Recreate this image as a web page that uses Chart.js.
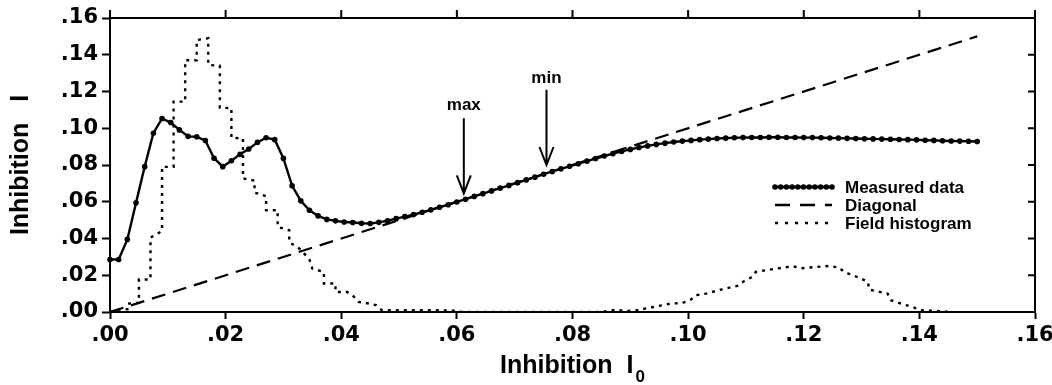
<!DOCTYPE html>
<html lang="en">
<head>
    <meta charset="UTF-8">
    <title>Inhibition I vs I0</title>
    <script src="https://cdn.jsdelivr.net/npm/chart.js"></script>
    <style>
        html, body { margin: 0; padding: 0; background: #fff; }
        #wrap { width: 1052px; height: 385px; position: relative; }
    </style>
</head>
<body>
    <div id="wrap"><canvas id="inhibitionChart"></canvas></div>

    <script>
        // Measured data (Inhibition I0 -> Inhibition I)
        const measuredX = [
            0.0000, 0.0015, 0.0030, 0.0045, 0.0060, 0.0075, 0.0090, 0.0105, 0.0120, 0.0135,
            0.0150, 0.0165, 0.0180, 0.0195, 0.0210, 0.0225, 0.0240, 0.0255, 0.0270, 0.0285,
            0.0300, 0.0315, 0.0330, 0.0345, 0.0360, 0.0375, 0.0390, 0.0405, 0.0420, 0.0435,
            0.0450, 0.0465, 0.0480, 0.0495, 0.0510, 0.0525, 0.0540, 0.0555, 0.0570, 0.0585,
            0.0600, 0.0615, 0.0630, 0.0645, 0.0660, 0.0675, 0.0690, 0.0705, 0.0720, 0.0735,
            0.0750, 0.0765, 0.0780, 0.0795, 0.0810, 0.0825, 0.0840, 0.0855, 0.0870, 0.0885,
            0.0900, 0.0915, 0.0930, 0.0945, 0.0960, 0.0975, 0.0990, 0.1005, 0.1020, 0.1035,
            0.1050, 0.1065, 0.1080, 0.1095, 0.1110, 0.1125, 0.1140, 0.1155, 0.1170, 0.1185,
            0.1200, 0.1215, 0.1230, 0.1245, 0.1260, 0.1275, 0.1290, 0.1305, 0.1320, 0.1335,
            0.1350, 0.1365, 0.1380, 0.1395, 0.1410, 0.1425, 0.1440, 0.1455, 0.1470, 0.1485,
            0.1500
        ];
        const measuredY = [
            0.0286, 0.0286, 0.0395, 0.0594, 0.0791, 0.0973, 0.1053, 0.1031, 0.0991, 0.0956,
            0.0954, 0.0933, 0.0837, 0.0791, 0.0823, 0.0858, 0.0887, 0.0923, 0.0948, 0.0938,
            0.0836, 0.0687, 0.0605, 0.0554, 0.0523, 0.0504, 0.0496, 0.0490, 0.0487, 0.0483,
            0.0482, 0.0488, 0.0497, 0.0508, 0.0519, 0.0530, 0.0543, 0.0556, 0.0570, 0.0584,
            0.0599, 0.0614, 0.0629, 0.0644, 0.0659, 0.0674, 0.0689, 0.0704, 0.0719, 0.0734,
            0.0750, 0.0765, 0.0779, 0.0793, 0.0807, 0.0821, 0.0835, 0.0849, 0.0862, 0.0874,
            0.0885, 0.0895, 0.0904, 0.0912, 0.0919, 0.0925, 0.0930, 0.0934, 0.0938, 0.0941,
            0.0944, 0.0946, 0.0948, 0.0949, 0.0950, 0.0950, 0.0951, 0.0951, 0.0950, 0.0950,
            0.0949, 0.0949, 0.0948, 0.0947, 0.0946, 0.0945, 0.0944, 0.0943, 0.0942, 0.0941,
            0.0940, 0.0939, 0.0938, 0.0937, 0.0935, 0.0934, 0.0932, 0.0931, 0.0930, 0.0929,
            0.0928
        ];

        // Diagonal I = I0
        const diagonalX = [0.0, 0.15];
        const diagonalY = [0.0, 0.15];

        // Field histogram outline (stepped)
        const histX = [
            0.000, 0.001, 0.003, 0.003, 0.005, 0.005, 0.007, 0.007, 0.009, 0.009,
            0.011, 0.011, 0.013, 0.013, 0.015, 0.015, 0.017, 0.017, 0.019, 0.019,
            0.021, 0.021, 0.023, 0.023, 0.025, 0.025, 0.027, 0.027, 0.029, 0.029,
            0.031, 0.031, 0.033, 0.0345, 0.035, 0.037, 0.037, 0.039, 0.039, 0.041,
            0.042, 0.043, 0.045, 0.046, 0.047, 0.059, 0.061, 0.085, 0.086, 0.0875,
            0.089, 0.091, 0.094, 0.097, 0.099, 0.1005, 0.1013, 0.1031, 0.1057, 0.1085,
            0.1097, 0.1111, 0.1117, 0.1152, 0.1181, 0.1195, 0.1244, 0.1261, 0.1270, 0.1299,
            0.1311, 0.1313, 0.1345, 0.1351, 0.1377, 0.1406, 0.1443, 0.1450
        ];
        const histY = [
            0.0000, 0.0012, 0.0015, 0.0045, 0.0050, 0.0177, 0.0177, 0.0405, 0.0440, 0.0790,
            0.0790, 0.1145, 0.1145, 0.1370, 0.1370, 0.1480, 0.1490, 0.1345, 0.1340, 0.1112,
            0.1110, 0.0948, 0.0945, 0.0727, 0.0715, 0.0650, 0.0630, 0.0554, 0.0554, 0.0463,
            0.0445, 0.0380, 0.0340, 0.0285, 0.0236, 0.0218, 0.0155, 0.0155, 0.0109, 0.0109,
            0.0090, 0.0055, 0.0045, 0.0037, 0.0010, 0.0009, 0.0000, 0.0000, 0.0005, 0.0013,
            0.0005, 0.0009, 0.0027, 0.0046, 0.0049, 0.0068, 0.0091, 0.0100, 0.0122, 0.0142,
            0.0169, 0.0191, 0.0218, 0.0236, 0.0249, 0.0238, 0.0251, 0.0242, 0.0218, 0.0182,
            0.0164, 0.0122, 0.0100, 0.0064, 0.0037, 0.0009, 0.0004, 0.0000
        ];

        // Ticks
        const xTickValues = [0, 0.02, 0.04, 0.06, 0.08, 0.10, 0.12, 0.14, 0.16];
        const xTickLabels = ['.00', '.02', '.04', '.06', '.08', '.10', '.12', '.14', '.16'];
        const yTickValues = [0, 0.02, 0.04, 0.06, 0.08, 0.10, 0.12, 0.14, 0.16];
        const yTickLabels = ['.00', '.02', '.04', '.06', '.08', '.10', '.12', '.14', '.16'];

        // Arrows: "max" and "min"
        const arrowLabels = ['max', 'min'];
        const arrowX = [0.0612, 0.0755];
        const arrowTipY = [0.0645, 0.0800];
        const arrowTailY = [0.1055, 0.1210];
        const arrowTextY = [0.1099, 0.1245];

        const legendLabels = ['Measured data', 'Diagonal', 'Field histogram'];

        const toPoints = (xs, ys) => xs.map((x, i) => ({ x: x, y: ys[i] }));

        const TICK_FONT = { family: '"DejaVu Sans"', size: 21, weight: 'bold' };
        const TEXT_FONT = '"Liberation Sans", Arial, sans-serif';

        // Frame, top/right ticks, arrows, legend and x title
        const decorPlugin = {
            id: 'decor',
            afterDraw(chart) {
                const ctx = chart.ctx;
                const area = chart.chartArea;
                const xs = chart.scales.x;
                const ys = chart.scales.y;
                ctx.save();
                ctx.strokeStyle = '#000';
                ctx.fillStyle = '#000';
                ctx.lineWidth = 2;
                ctx.setLineDash([]);

                // frame
                ctx.strokeRect(area.left, area.top, area.right - area.left, area.bottom - area.top);

                // top ticks (outward), right ticks (inward)
                ctx.beginPath();
                xTickValues.forEach(v => {
                    const px = xs.getPixelForValue(v);
                    ctx.moveTo(px, area.top);
                    ctx.lineTo(px, area.top - 8);
                });
                yTickValues.forEach(v => {
                    const py = ys.getPixelForValue(v);
                    ctx.moveTo(area.right, py);
                    ctx.lineTo(area.right - 7, py);
                });
                ctx.stroke();

                // arrows
                ctx.font = 'bold 17px ' + TEXT_FONT;
                ctx.textAlign = 'center';
                ctx.textBaseline = 'alphabetic';
                arrowLabels.forEach((label, i) => {
                    const px = xs.getPixelForValue(arrowX[i]);
                    const tip = ys.getPixelForValue(arrowTipY[i]);
                    const tail = ys.getPixelForValue(arrowTailY[i]);
                    ctx.beginPath();
                    ctx.moveTo(px, tail);
                    ctx.lineTo(px, tip);
                    ctx.moveTo(px - 7, tip - 18);
                    ctx.lineTo(px, tip);
                    ctx.lineTo(px + 7, tip - 18);
                    ctx.stroke();
                    ctx.fillText(label, px, ys.getPixelForValue(arrowTextY[i]));
                });

                // legend
                const ds = chart.data.datasets;
                const lx0 = 775, lx1 = 832, tx = 845;
                const rows = [187, 205, 223];
                ctx.textAlign = 'left';
                ctx.textBaseline = 'middle';
                legendLabels.forEach((label, i) => {
                    const y = rows[i];
                    ctx.lineWidth = 2.4;
                    ctx.setLineDash(i === 1 ? [15, 10] : (i === 2 ? [3, 7] : []));
                    ctx.beginPath();
                    ctx.moveTo(lx0, y);
                    ctx.lineTo(lx1, y);
                    ctx.stroke();
                    ctx.setLineDash([]);
                    if (i === 0) {
                        for (let k = 0; k <= 10; k++) {
                            ctx.beginPath();
                            ctx.arc(lx0 + k * (lx1 - lx0) / 10, y, ds[0].pointRadius, 0, Math.PI * 2);
                            ctx.fill();
                        }
                    }
                    ctx.fillText(label, tx, y + 1);
                });

                // x axis title with subscript
                const main = 'Inhibition  I';
                ctx.font = 'bold 25px ' + TEXT_FONT;
                const w1 = ctx.measureText(main).width;
                ctx.font = 'bold 17px ' + TEXT_FONT;
                const w2 = ctx.measureText('0').width;
                const cx = (area.left + area.right) / 2;
                const startX = cx - (w1 + w2 + 2) / 2;
                ctx.textAlign = 'left';
                ctx.textBaseline = 'alphabetic';
                ctx.font = 'bold 25px ' + TEXT_FONT;
                ctx.fillText(main, startX, 373);
                ctx.font = 'bold 17px ' + TEXT_FONT;
                ctx.fillText('0', startX + w1 + 2, 382);

                ctx.restore();
            }
        };

        const ctx = document.getElementById('inhibitionChart').getContext('2d');
        const inhibitionChart = new Chart(ctx, {
            type: 'line',
            data: {
                datasets: [
                    {
                        label: legendLabels[0],
                        data: toPoints(measuredX, measuredY),
                        borderColor: '#000',
                        backgroundColor: '#000',
                        borderWidth: 2.4,
                        pointRadius: 2.8,
                        pointBorderWidth: 0,
                        pointBackgroundColor: '#000',
                        tension: 0,
                        clip: 6,
                        order: 0
                    },
                    {
                        label: legendLabels[1],
                        data: toPoints(diagonalX, diagonalY),
                        borderColor: '#000',
                        borderWidth: 2.2,
                        borderDash: [14, 8],
                        pointRadius: 0,
                        order: 1
                    },
                    {
                        label: legendLabels[2],
                        data: toPoints(histX, histY),
                        borderColor: '#000',
                        borderWidth: 2.4,
                        borderDash: [3, 5],
                        pointRadius: 0,
                        order: 2
                    }
                ]
            },
            options: {
                responsive: true,
                maintainAspectRatio: false,
                animation: false,
                layout: { padding: { top: 18, right: 17, left: 0, bottom: 0 } },
                plugins: {
                    legend: { display: false },
                    tooltip: { enabled: false }
                },
                scales: {
                    x: {
                        type: 'linear',
                        min: 0,
                        max: 0.16,
                        afterBuildTicks: s => { s.ticks = xTickValues.map(v => ({ value: v })); },
                        afterFit: s => { s.height = 73; s.paddingLeft = 0; s.paddingRight = 0; },
                        border: { display: true, width: 2, color: '#000' },
                        grid: { drawOnChartArea: false, drawTicks: true, tickLength: 7, tickWidth: 2, color: '#000' },
                        ticks: {
                            autoSkip: false,
                            maxRotation: 0,
                            padding: 4,
                            color: '#000',
                            font: TICK_FONT,
                            callback: (v, i) => xTickLabels[i]
                        }
                    },
                    y: {
                        type: 'linear',
                        min: 0,
                        max: 0.16,
                        afterBuildTicks: s => { s.ticks = yTickValues.map(v => ({ value: v })); },
                        afterFit: s => { s.width = 110; s.paddingTop = 0; s.paddingBottom = 0; },
                        border: { display: true, width: 2, color: '#000' },
                        grid: { drawOnChartArea: false, drawTicks: true, tickLength: 8, tickWidth: 2, color: '#000' },
                        ticks: {
                            padding: 4,
                            color: '#000',
                            font: TICK_FONT,
                            callback: (v, i) => yTickLabels[i]
                        },
                        title: {
                            display: true,
                            text: 'Inhibition   I',
                            color: '#000',
                            font: { family: TEXT_FONT, size: 25, weight: 'bold' },
                            padding: { top: 6, bottom: 0 }
                        }
                    }
                }
            },
            plugins: [decorPlugin]
        });
    </script>
</body>
</html>
